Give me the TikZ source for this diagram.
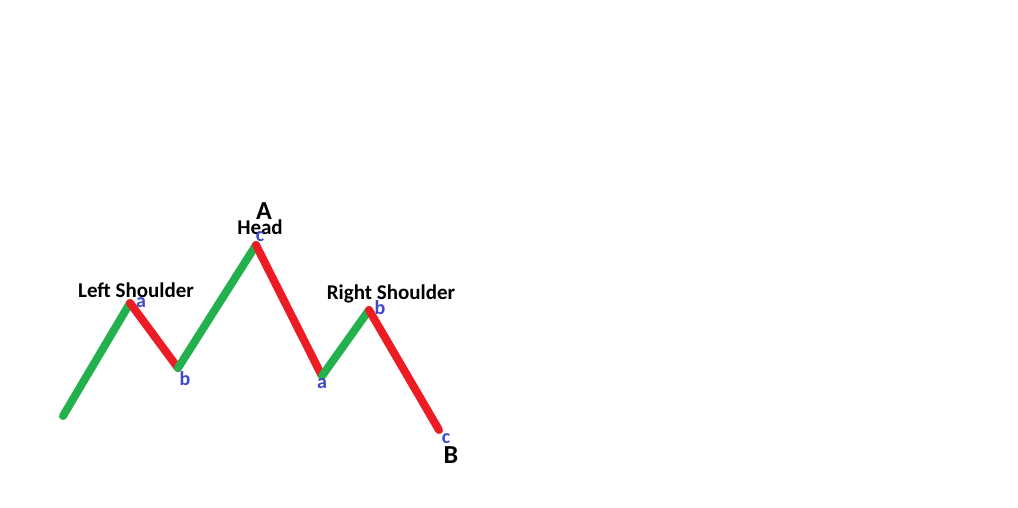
\documentclass[tikz,border=0pt]{standalone}
\usepackage{fontspec}
\setmainfont{Carlito}
\usetikzlibrary{positioning}
\definecolor{upgreen}{RGB}{34,177,76}
\definecolor{downred}{RGB}{237,28,36}
\definecolor{wavblue}{RGB}{63,72,204}
\tikzset{
  leg/.style={line width=8pt,line cap=round,draw=#1},
  leg/.default=upgreen,
  title/.style={font=\fontsize{21}{24}\selectfont\bfseries,text=black,inner sep=0pt},
  bigtag/.style={font=\fontsize{26}{30}\selectfont\bfseries,text=black,inner sep=0pt},
  wave/.style={font=\fontsize{20}{24}\selectfont\bfseries,text=wavblue,inner sep=0pt},
}
\begin{document}
\begin{tikzpicture}[x=1pt,y=-1pt]
  \useasboundingbox[fill=white] (0,0) rectangle (1018,507);
  % turning points
  \coordinate (start) at (63,416);
  \coordinate (lsa) at (130,303);
  \coordinate (lsb) at (178,368);
  \coordinate (hc) at (256,245);
  \coordinate (rsa) at (322,376);
  \coordinate (rsb) at (369,310);
  \coordinate (end) at (439,430);
  % legs
  \draw[leg] (start) -- (lsa);
  \draw[leg=downred] (lsa) -- (lsb);
  \draw[leg] (lsb) -- (hc);
  \draw[leg=downred] (hc) -- (rsa);
  \draw[leg] (rsa) -- (rsb);
  \draw[leg=downred] (rsb) -- (end);
  % labels
  \node[title] (left) at (136,290) {Left Shoulder};
  \node[title] (head) at (260,227) {Head};
  \node[title] (right) at (391,294) {Right Shoulder};
  \node[bigtag] (topA) at (264,211) {A};
  \node[bigtag] (botB) at (451,455) {B};
  \node[wave] (wa1) at (141,303) {a};
  \node[wave] (wb1) at (185,379) {b};
  \node[wave] (wc1) at (260,237) {c};
  \node[wave] (wa2) at (322,384) {a};
  \node[wave] (wb2) at (380,308) {b};
  \node[wave] (wc2) at (446,439) {c};
\end{tikzpicture}
\end{document}
